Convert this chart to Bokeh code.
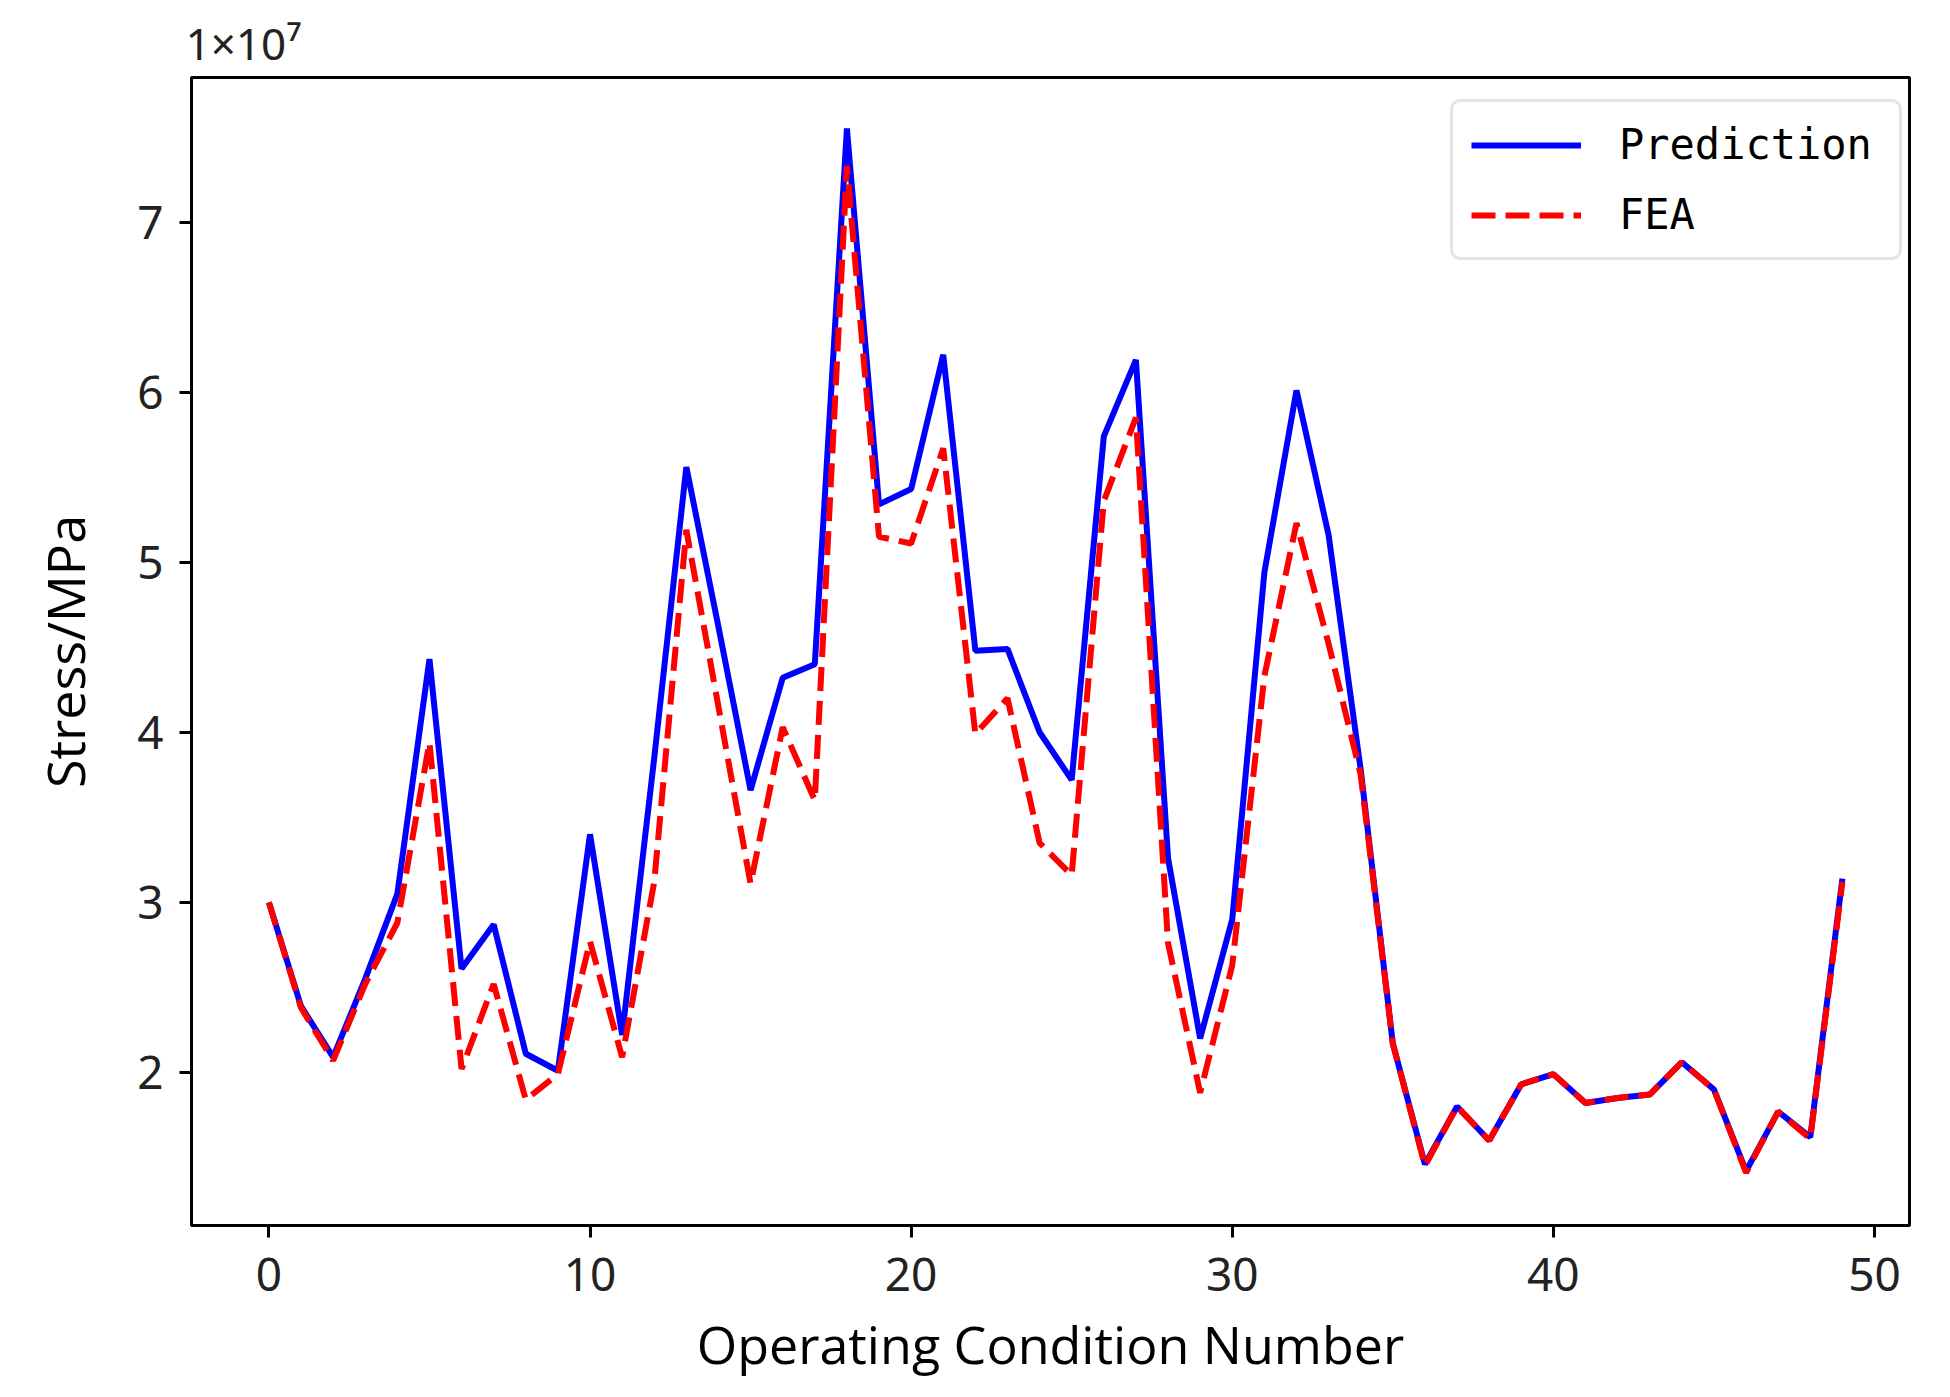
from bokeh.plotting import figure
from bokeh.models import Legend, LegendItem, FixedTicker, Range1d, Title
from bokeh.embed import file_html
from bokeh.resources import INLINE

# Operating condition numbers
conditions = list(range(50))

# Stress values, in units of 1e7
prediction = [3.00, 2.39, 2.09, 2.55, 3.05, 4.43, 2.61, 2.87, 2.11, 2.01,
              3.40, 2.22, 3.85, 5.56, 4.62, 3.66, 4.32, 4.40, 7.55, 5.34,
              5.43, 6.22, 4.48, 4.49, 4.00, 3.72, 5.74, 6.19, 3.26, 2.20,
              2.90, 4.94, 6.01, 5.16, 3.78, 2.17, 1.46, 1.80, 1.60, 1.93,
              1.99, 1.82, 1.85, 1.87, 2.06, 1.90, 1.42, 1.77, 1.62, 3.14]
fea = [3.00, 2.38, 2.07, 2.52, 2.88, 3.94, 2.02, 2.52, 1.84, 1.99,
       2.77, 2.09, 3.12, 5.19, 4.15, 3.11, 4.03, 3.60, 7.33, 5.15,
       5.11, 5.67, 3.99, 4.20, 3.35, 3.16, 5.36, 5.85, 2.76, 1.88,
       2.63, 4.33, 5.23, 4.52, 3.75, 2.17, 1.45, 1.80, 1.60, 1.93,
       1.99, 1.82, 1.85, 1.87, 2.06, 1.90, 1.41, 1.77, 1.61, 3.12]

x_ticks = [0, 10, 20, 30, 40, 50]
y_ticks = [2, 3, 4, 5, 6, 7]

TICK_FONT = "Noto Sans"

p = figure(width=1934, height=1381, output_backend="svg", toolbar_location=None,
           x_range=Range1d(-2.41, 51.09), y_range=Range1d(1.10, 7.85),
           min_border_left=191, min_border_right=25, min_border_top=77, min_border_bottom=150)
p.background_fill_color = "white"
p.border_fill_color = "white"
p.outline_line_color = "black"
p.outline_line_width = 3
p.xgrid.visible = False
p.ygrid.visible = False

r1 = p.line(conditions, prediction, line_color="#0000ff", line_width=6)
r2 = p.line(conditions, fea, line_color="#ff0000", line_width=6, line_dash="24 10")

for ax in (p.xaxis[0], p.yaxis[0]):
    ax.axis_line_color = "black"
    ax.axis_line_width = 3
    ax.major_tick_line_color = "black"
    ax.major_tick_line_width = 3
    ax.major_tick_out = 12
    ax.major_tick_in = 0
    ax.minor_tick_line_color = None
    ax.major_label_text_font = TICK_FONT
    ax.major_label_text_font_size = "46px"
    ax.major_label_text_color = "#222222"
    ax.axis_label_text_font = "Open Sans"
    ax.axis_label_text_font_size = "52px"
    ax.axis_label_text_font_style = "normal"
    ax.axis_label_text_color = "black"

p.xaxis.ticker = FixedTicker(ticks=x_ticks)
p.yaxis.ticker = FixedTicker(ticks=y_ticks)
p.xaxis.axis_label = "Operating Condition Number"
p.yaxis.axis_label = "Stress/MPa"
p.xaxis.major_label_standoff = 20
p.yaxis.major_label_standoff = 16
p.xaxis.axis_label_standoff = 14
p.yaxis.axis_label_standoff = 34

legend = Legend(items=[LegendItem(label="Prediction", renderers=[r1]),
                       LegendItem(label="FEA", renderers=[r2])],
                location=(1259, 965))
legend.margin = 0
legend.padding = 18
legend.spacing = 21
legend.glyph_width = 110
legend.glyph_height = 44
legend.label_height = 44
legend.label_width = 262
legend.label_standoff = 38
legend.label_text_font = "DejaVu Sans Mono"
legend.label_text_font_size = "42px"
legend.label_text_color = "black"
legend.border_line_color = "#cccccc"
legend.border_line_width = 3
legend.border_radius = 10
legend.background_fill_color = "white"
legend.background_fill_alpha = 0.9
p.add_layout(legend)

scale_title = Title(text="1×10⁷", align="left", offset=-6, standoff=10,
                    text_font=TICK_FONT, text_font_size="44px",
                    text_font_style="normal", text_color="#222222")
p.add_layout(scale_title, "above")

open("out.html", "w").write(file_html(p, INLINE))
